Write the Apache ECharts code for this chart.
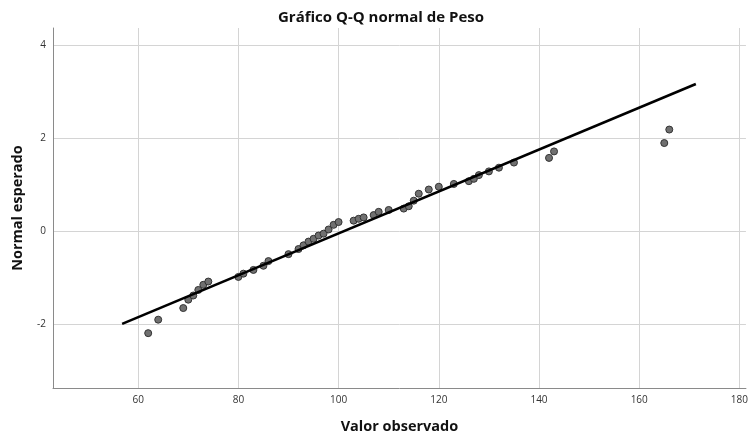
<!DOCTYPE html>
<html>
<head>
<meta charset="utf-8">
<script src="https://cdn.jsdelivr.net/npm/echarts@6/dist/echarts.min.js"></script>
<style>
  html, body { margin: 0; padding: 0; background: #ffffff; }
  #chart { width: 751px; height: 439px; }
</style>
</head>
<body>
<div id="chart"></div>
<script>
// Observed weights (Peso) and their expected normal scores
const pesoObservado = [62, 64, 69, 70, 71, 72, 73, 74, 80, 81, 83, 85, 86, 90, 92, 93, 94, 95, 96, 97,
  98, 99, 100, 103, 104, 105, 107, 108, 110, 113, 114, 115, 116, 118, 120, 123, 126, 127, 128, 130,
  132, 135, 142, 143, 165, 166];
const normalEsperado = [-2.19, -1.90, -1.65, -1.47, -1.38, -1.26, -1.15, -1.08, -0.98, -0.91, -0.83, -0.74,
  -0.64, -0.49, -0.38, -0.30, -0.22, -0.16, -0.09, -0.05, 0.04, 0.14, 0.20, 0.23, 0.27, 0.30, 0.35, 0.42,
  0.46, 0.49, 0.54, 0.66, 0.81, 0.90, 0.96, 1.02, 1.08, 1.13, 1.21, 1.29, 1.37, 1.48, 1.58, 1.72, 1.90, 2.19];

// Reference line endpoints (x, expected normal)
const lineaX = [56.8, 171.3];
const lineaY = [-1.99, 3.17];

const puntos = pesoObservado.map((v, i) => [v, normalEsperado[i]]);
const linea = lineaX.map((v, i) => [v, lineaY[i]]);

const FONT = '"Open Sans", "Liberation Sans", sans-serif';

const chart = echarts.init(document.getElementById('chart'), null, { renderer: 'canvas' });

const isMultiple = (v, step) => Math.abs(v / step - Math.round(v / step)) < 1e-6;

chart.setOption({
  backgroundColor: '#ffffff',
  animation: false,
  title: {
    text: 'Gráfico Q-Q normal de Peso',
    left: 273,
    top: 5,
    textStyle: { fontFamily: FONT, fontSize: 15, fontWeight: 'bold', color: '#111' }
  },
  grid: { left: 53, right: 0, top: 28, bottom: 46, containLabel: false },
  xAxis: {
    type: 'value',
    min: 43.0,
    max: 181.3,
    minInterval: 20,
    maxInterval: 20,
    name: 'Valor observado',
    nameLocation: 'middle',
    nameGap: 31,
    nameTextStyle: { fontFamily: FONT, fontSize: 14.5, fontWeight: 'bold', color: '#111' },
    axisLine: { show: true, onZero: false, lineStyle: { color: '#8a8a8a', width: 1 } },
    axisTick: { show: false },
    axisLabel: {
      fontFamily: FONT, fontSize: 10, color: '#333', margin: 7,
      showMinLabel: false, showMaxLabel: false,
      formatter: v => (isMultiple(v, 20) ? String(v) : '')
    },
    splitLine: { show: true, showMinLine: false, showMaxLine: false, lineStyle: { color: '#d4d4d4', width: 1 } }
  },
  yAxis: {
    type: 'value',
    min: -3.37,
    max: 4.375,
    minInterval: 2,
    maxInterval: 2,
    name: 'Normal esperado',
    nameLocation: 'middle',
    nameGap: 28,
    nameTextStyle: { fontFamily: FONT, fontSize: 14.5, fontWeight: 'bold', color: '#111' },
    axisLine: { show: true, onZero: false, lineStyle: { color: '#8a8a8a', width: 1 } },
    axisTick: { show: false },
    axisLabel: {
      fontFamily: FONT, fontSize: 10, color: '#333', margin: 7,
      showMinLabel: false, showMaxLabel: false,
      formatter: v => (isMultiple(v, 2) ? String(v) : '')
    },
    splitLine: { show: true, showMinLine: false, showMaxLine: false, lineStyle: { color: '#d4d4d4', width: 1 } }
  },
  series: [
    {
      type: 'scatter',
      data: puntos,
      symbol: 'circle',
      symbolSize: 7,
      itemStyle: { color: '#707070', borderColor: '#333333', borderWidth: 1, opacity: 1 },
      z: 2
    },
    {
      type: 'line',
      data: linea,
      symbol: 'none',
      lineStyle: { color: '#000000', width: 2.6 },
      z: 3
    }
  ]
});
</script>
</body>
</html>
